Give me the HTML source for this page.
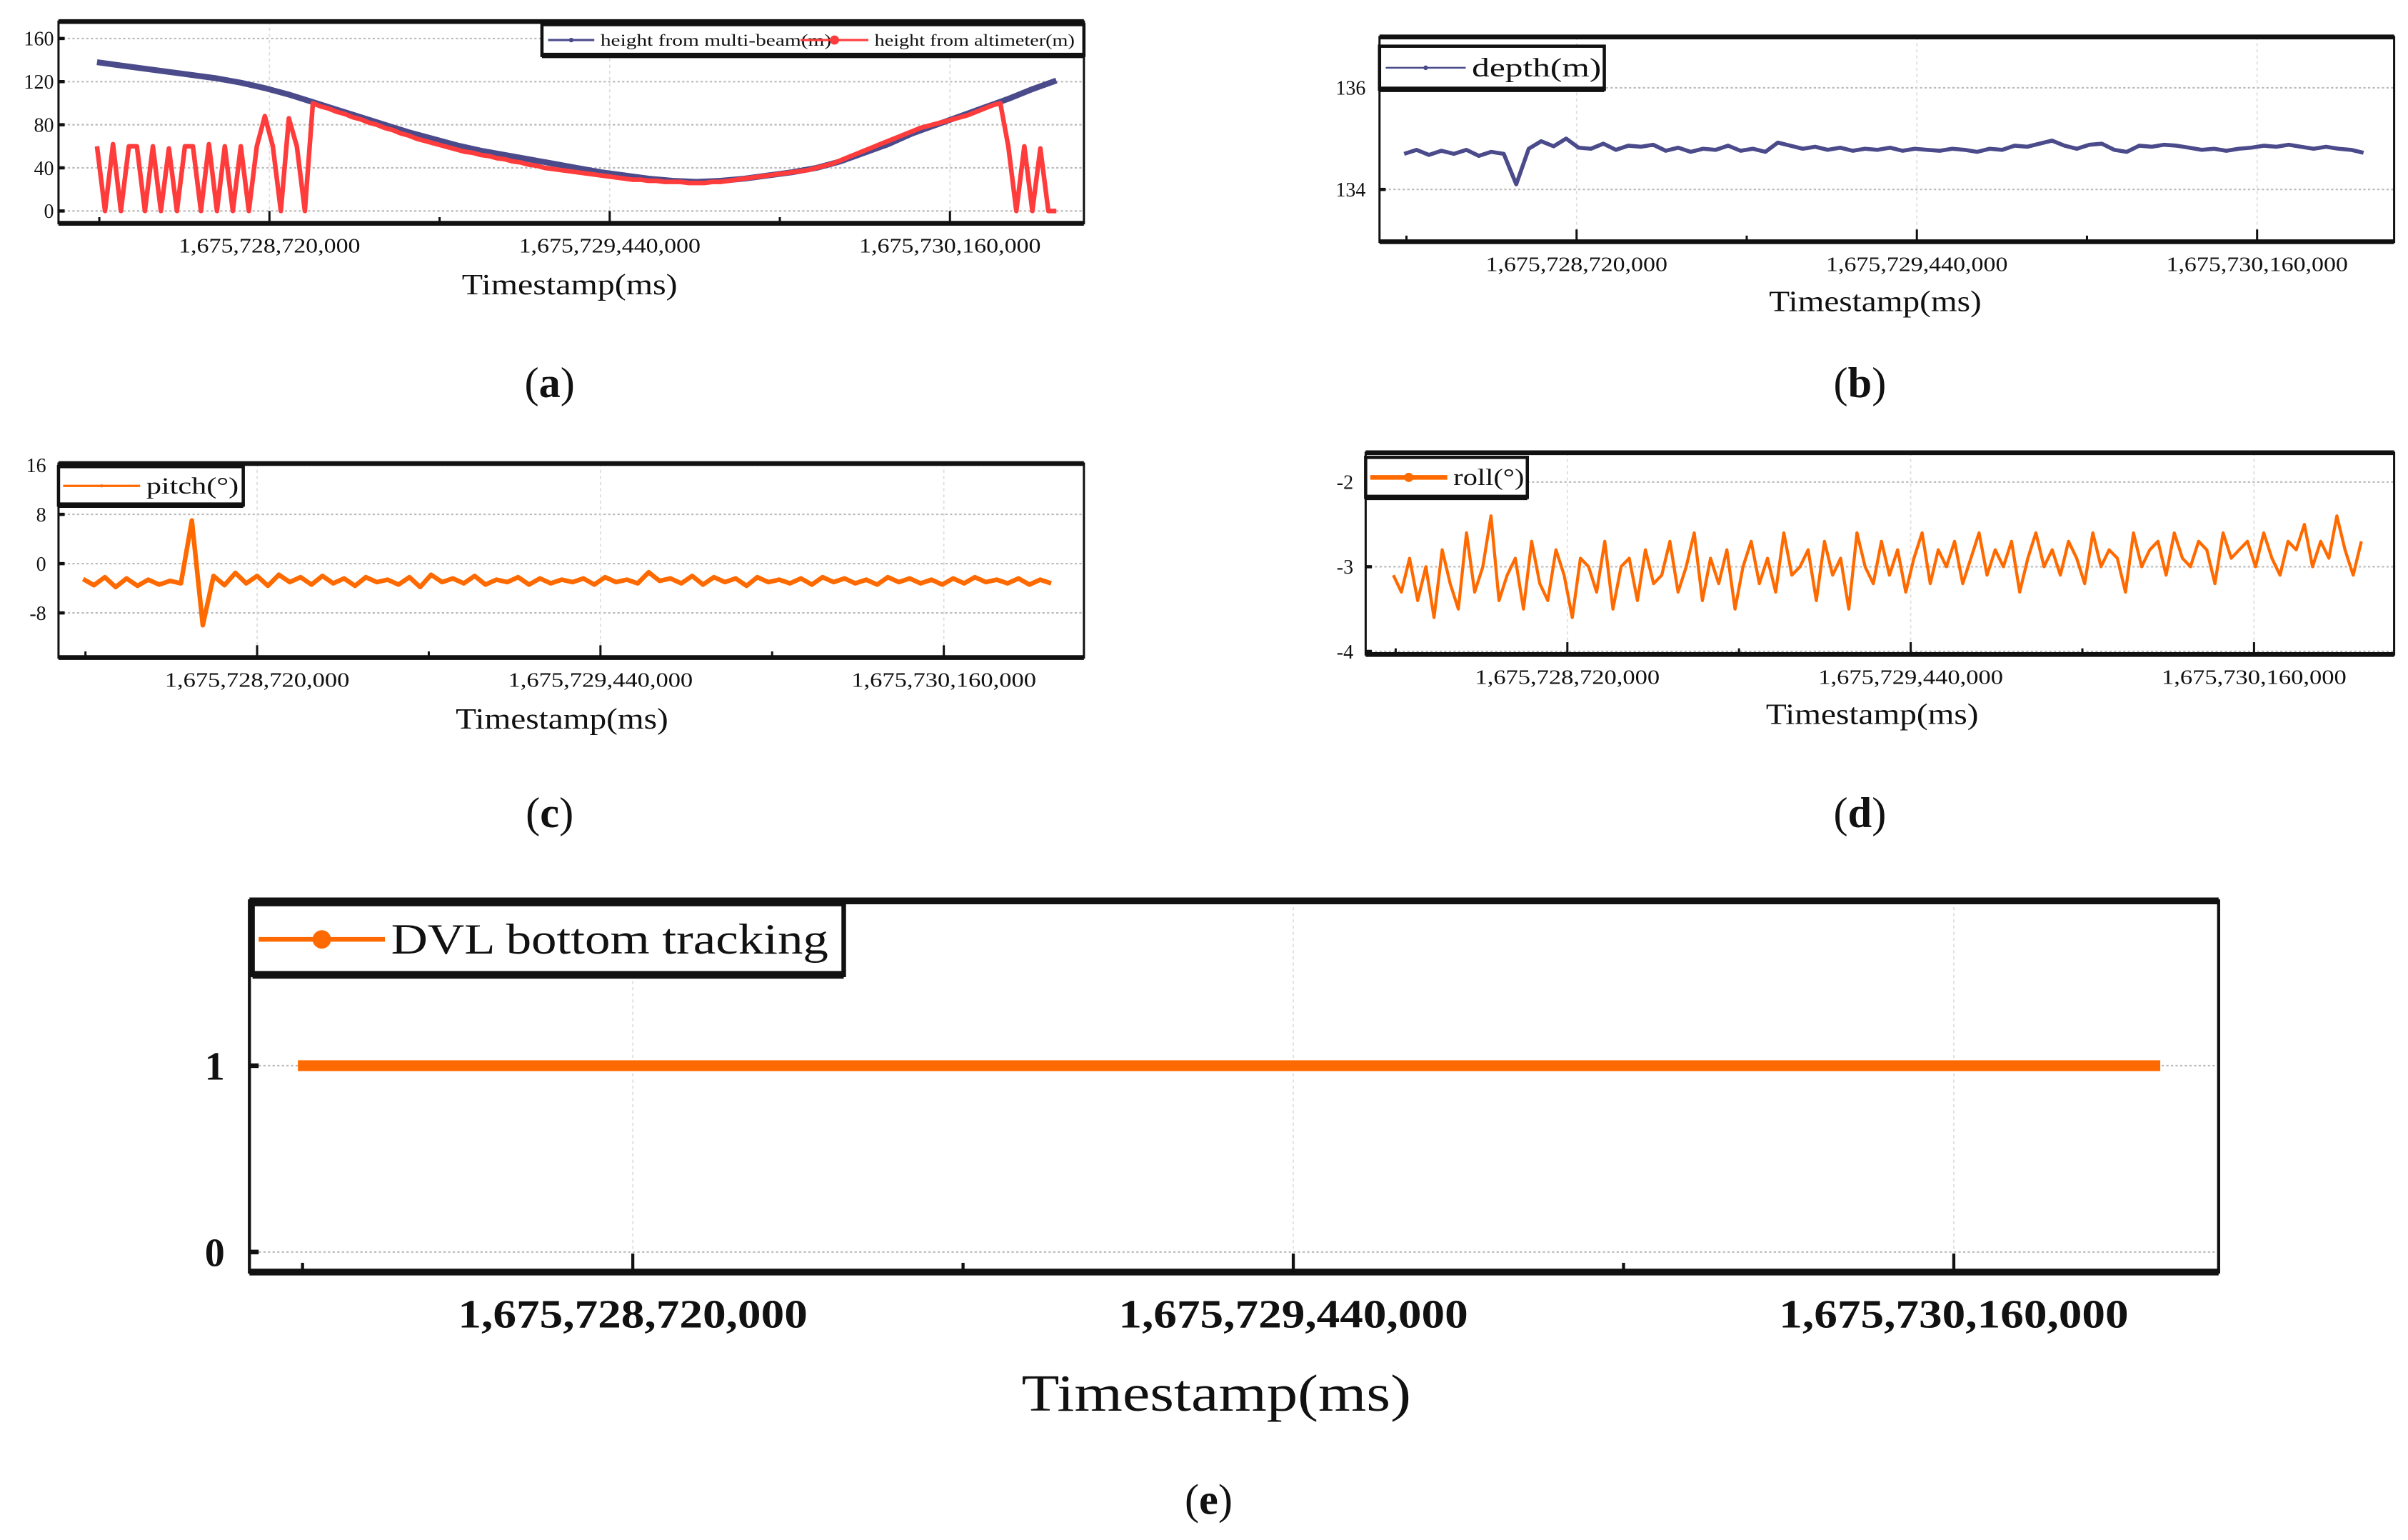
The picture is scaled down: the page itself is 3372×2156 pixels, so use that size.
<!DOCTYPE html>
<html><head><meta charset="utf-8"><style>
html,body{margin:0;padding:0;background:#fff;}
svg{display:block;}
text{font-family:"Liberation Serif",serif;fill:#111;}
</style></head><body>
<svg id="fig" xmlns="http://www.w3.org/2000/svg" width="3372" height="2156" viewBox="0 0 1564 1000"></svg>
<script>
// ---- data ----
const xTickValues = [1675728720000, 1675729440000, 1675730160000];
const xTickLabels = ["1,675,728,720,000", "1,675,729,440,000", "1,675,730,160,000"];
const tStart = 1675728355000;
const tEnd = 1675730385000;

const multibeamHeight = [138,135,132,129,126,123,119,114,108,101,94,87,80,73,67,61,56,52,48,44,40,36,33,30,28,27,28,30,33,36,40,46,54,62,72,80,88,96,104,113,121];
const altimeterHeight = [60,0,62,0,60,60,0,60,0,58,0,60,60,0,62,0,60,0,60,0,60,88,60,0,86,60,0,
 100,97,95,92,90,87,85,82,80,77,75,72,70,67,65,63,61,59,57,55,54,52,51,49,48,46,45,43,42,40,39,38,37,36,35,34,33,32,31,30,29,29,28,28,27,27,27,26,26,26,27,27,28,
 29,30,31,32,33,34,35,36,37,38,40,42,44,47,50,53,56,59,62,65,68,71,74,77,79,81,83,85,87,89,92,95,98,100,
 60,0,60,0,58,0,0];
const depthValues = [134.7,134.78,134.68,134.76,134.7,134.78,134.66,134.74,134.7,134.1,134.8,134.95,134.85,135.0,134.82,134.8,134.9,134.78,134.86,134.84,134.88,134.76,134.82,134.74,134.8,134.78,134.86,134.76,134.8,134.74,134.92,134.86,134.8,134.84,134.78,134.82,134.76,134.8,134.78,134.82,134.76,134.8,134.78,134.76,134.8,134.78,134.74,134.8,134.78,134.86,134.84,134.9,134.96,134.86,134.8,134.88,134.9,134.78,134.74,134.86,134.84,134.88,134.86,134.82,134.78,134.8,134.76,134.8,134.82,134.86,134.84,134.88,134.84,134.8,134.84,134.8,134.78,134.72];
const pitchValues = [-2.5,-3.5,-2.2,-3.8,-2.4,-3.6,-2.6,-3.4,-2.8,-3.2,7,-10,-2,-3.5,-1.5,-3.2,-2,-3.6,-1.8,-3,-2.2,-3.4,-2,-3.2,-2.4,-3.6,-2.2,-3,-2.6,-3.4,-2.2,-3.8,-1.8,-3,-2.4,-3.2,-2,-3.4,-2.6,-3,-2.2,-3.4,-2.4,-3.2,-2.6,-3,-2.4,-3.4,-2.2,-3,-2.6,-3.2,-1.4,-2.8,-2.4,-3.2,-2,-3.4,-2.2,-3,-2.4,-3.6,-2.2,-3,-2.6,-3.2,-2.4,-3.4,-2.2,-3,-2.4,-3.2,-2.6,-3.4,-2.2,-3,-2.4,-3.2,-2.6,-3.4,-2.4,-3.2,-2.2,-3,-2.6,-3.2,-2.4,-3.4,-2.6,-3.2];
const rollValues = [-3.1,-3.3,-2.9,-3.4,-3.0,-3.6,-2.8,-3.2,-3.5,-2.6,-3.3,-3.0,-2.4,-3.4,-3.1,-2.9,-3.5,-2.7,-3.2,-3.4,-2.8,-3.1,-3.6,-2.9,-3.0,-3.3,-2.7,-3.5,-3.0,-2.9,-3.4,-2.8,-3.2,-3.1,-2.7,-3.3,-3.0,-2.6,-3.4,-2.9,-3.2,-2.8,-3.5,-3.0,-2.7,-3.2,-2.9,-3.3,-2.6,-3.1,-3.0,-2.8,-3.4,-2.7,-3.1,-2.9,-3.5,-2.6,-3.0,-3.2,-2.7,-3.1,-2.8,-3.3,-2.9,-2.6,-3.2,-2.8,-3.0,-2.7,-3.2,-2.9,-2.6,-3.1,-2.8,-3.0,-2.7,-3.3,-2.9,-2.6,-3.0,-2.8,-3.1,-2.7,-2.9,-3.2,-2.6,-3.0,-2.8,-2.9,-3.3,-2.6,-3.0,-2.8,-2.7,-3.1,-2.6,-2.9,-3.0,-2.7,-2.8,-3.2,-2.6,-2.9,-2.8,-2.7,-3.0,-2.6,-2.9,-3.1,-2.7,-2.8,-2.5,-3.0,-2.7,-2.9,-2.4,-2.8,-3.1,-2.7];
const dvlValues = [1,1,1,1,1,1,1,1,1,1,1,1,1,1,1,1,1,1,1,1,1,1,1,1,1,1,1,1,1,1,1,1,1,1,1,1,1,1,1,1];

const svg = document.getElementById('fig');
const NS = 'http://www.w3.org/2000/svg';
function mk(tag, attrs, parent, txt) {
  const e = document.createElementNS(NS, tag);
  for (const k in attrs) e.setAttribute(k, attrs[k]);
  if (txt !== undefined) e.textContent = txt;
  (parent || svg).appendChild(e);
  return e;
}

function panel(c) {
  const g = mk('g', {});
  
  
  const xs = t => c.px0 + (t - xTickValues[0]) / (xTickValues[2] - xTickValues[0]) * (c.px2 - c.px0);
  const ys = v => c.yp[0] + (v - c.yv[0]) / (c.yv[1] - c.yv[0]) * (c.yp[1] - c.yp[0]);
  c.yTicks.forEach(v => {
    const l = mk('line', {x1: c.x0, x2: c.x1, y1: ys(v), y2: ys(v), stroke: '#bbb', 'stroke-width': 1, 'stroke-dasharray': '1.5,1.5'}, g);
    
    
  });
  xTickValues.forEach(t => {
    const l = mk('line', {x1: xs(t), x2: xs(t), y1: c.y0, y2: c.y1, stroke: '#ddd', 'stroke-width': 0.8, 'stroke-dasharray': '2,2'}, g);
    
    
  });
  const fr = mk('rect', {x: c.x0, y: c.y0, width: c.x1 - c.x0, height: c.y1 - c.y0, fill: 'none', stroke: '#111', 'stroke-width': c.bw}, g);
  
  
  mk('line', {x1: c.x0, x2: c.x1, y1: c.y0, y2: c.y0, stroke: '#111', 'stroke-width': c.bw * 2.2}, g);
  mk('line', {x1: c.x0, x2: c.x1, y1: c.y1, y2: c.y1, stroke: '#111', 'stroke-width': c.bw * 2.2}, g);
  const step = (xTickValues[1] - xTickValues[0]) / 2;
  for (let t = xTickValues[0] - step; t <= xTickValues[2]; t += step) {
    const major = xTickValues.includes(t);
    const l = mk('line', {x1: xs(t), x2: xs(t), y1: c.y1, y2: c.y1 - (major ? c.tk : c.tk / 2), stroke: '#111', 'stroke-width': c.bw}, g);
    
    
  }
  xTickLabels.forEach((s, i) => {
    const tx = mk('text', {x: xs(xTickValues[i]), y: c.xly, 'text-anchor': 'middle', 'font-size': c.fs, 'font-weight': c.bold ? 'bold' : 'normal', textLength: c.tlw, lengthAdjust: 'spacingAndGlyphs'}, g, s);
    
    
  });
  c.yTicks.forEach((v, i) => {
    const tk = mk('line', {x1: c.x0, x2: c.x0 + c.tk / 2, y1: ys(v), y2: ys(v), stroke: '#111', 'stroke-width': c.bw * 1.5}, g);
    
    
    const tx = mk('text', {x: c.ylx, y: ys(v) + c.yfs * 0.35, 'text-anchor': 'end', 'font-size': c.yfs, 'font-weight': c.bold ? 'bold' : 'normal'}, g, c.yLabels[i]);
    
    
  });
  const ti = mk('text', {x: c.tx, y: c.ty, 'text-anchor': 'middle', 'font-size': c.tfs, textLength: c.ttw, lengthAdjust: 'spacingAndGlyphs'}, g, 'Timestamp(ms)');
  
  
  const lb = mk('text', {x: c.lx, y: c.ly, 'text-anchor': 'middle', 'font-size': 28}, g);
  
  
  mk('tspan', {}, lb, '(');
  mk('tspan', {'font-weight': 'bold'}, lb, c.label);
  mk('tspan', {}, lb, ')');
  c.series.forEach(s => {
    const n = s.values.length;
    const pts = s.values.map((v, i) => xs(tStart + i * (tEnd - tStart) / (n - 1)).toFixed(1) + ',' + ys(v).toFixed(1)).join(' ');
    const pl = mk('polyline', {points: pts, fill: 'none', stroke: s.color, 'stroke-width': s.w, 'stroke-linejoin': 'round'}, g);
    
    
  });
  const L = c.legend;
  const lg = mk('g', {}, g);
  
  
  mk('rect', {x: L.x, y: L.y, width: L.w, height: L.h, fill: '#fff', stroke: '#111', 'stroke-width': c.bw * 1.5}, lg);
  mk('line', {x1: L.x, x2: L.x + L.w, y1: L.y + L.h, y2: L.y + L.h, stroke: '#111', 'stroke-width': c.bw * 2.5}, lg);
  L.items.forEach(it => {
    const en = mk('g', {}, lg);
    
    
    mk('line', {x1: it.x, x2: it.x + it.lw, y1: L.y + L.h / 2, y2: L.y + L.h / 2, stroke: it.color, 'stroke-width': it.sw}, en);
    mk('circle', {cx: it.x + it.lw / 2, cy: L.y + L.h / 2, r: it.r, fill: it.color}, en);
    mk('text', {x: it.x + it.lw + 4, y: L.y + L.h / 2 + it.fs * 0.33, 'font-size': it.fs, textLength: it.tw, lengthAdjust: 'spacingAndGlyphs'}, en, it.text);
  });
}

panel({name: 'panel-a-height', x0: 38, x1: 704, y0: 14, y1: 145, bw: 1.4, px0: 175, px2: 617, yv: [0, 160], yp: [137, 25], yTicks: [0, 40, 80, 120, 160], yLabels: ['0', '40', '80', '120', '160'], ylx: 35, yfs: 13, tk: 8, xly: 164, fs: 13, tlw: 118, tx: 370, ty: 191, tfs: 19, ttw: 140, lx: 357, ly: 258, label: 'a',
  series: [{name: 'multibeam-height-line', values: multibeamHeight, color: '#4b4b8c', w: 3.8}, {name: 'altimeter-height-line', values: altimeterHeight, color: '#ff3c3c', w: 3}],
  legend: {x: 352, y: 16, w: 352, h: 20, items: [{x: 356, lw: 30, color: '#4b4b8c', sw: 1.5, r: 1.5, fs: 11, tw: 150, text: 'height from multi-beam(m)'}, {x: 520, lw: 44, color: '#ff3c3c', sw: 1.5, r: 3, fs: 11, tw: 130, text: 'height from altimeter(m)'}]}});

panel({name: 'panel-b-depth', x0: 896, x1: 1555, y0: 24, y1: 157, bw: 1.4, px0: 1024, px2: 1466, yv: [134, 136], yp: [123, 57], yTicks: [134, 136], yLabels: ['134', '136'], ylx: 887, yfs: 13, tk: 8, xly: 176, fs: 13, tlw: 118, tx: 1218, ty: 202, tfs: 19, ttw: 138, lx: 1208, ly: 258, label: 'b',
  series: [{name: 'depth-line', values: depthValues, color: '#4b4b8c', w: 2.6}],
  legend: {x: 896, y: 30, w: 146, h: 28, items: [{x: 900, lw: 52, color: '#4b4b8c', sw: 1.2, r: 1.5, fs: 17, tw: 84, text: 'depth(m)'}]}});

panel({name: 'panel-c-pitch', x0: 38, x1: 704, y0: 301, y1: 427, bw: 1.4, px0: 167, px2: 613, yv: [0, 8], yp: [366, 334], yTicks: [-8, 0, 8, 16], yLabels: ['-8', '0', '8', '16'], ylx: 30, yfs: 13, tk: 8, xly: 446, fs: 13, tlw: 120, tx: 365, ty: 473, tfs: 19, ttw: 138, lx: 357, ly: 537, label: 'c',
  series: [{name: 'pitch-line', values: pitchValues, color: '#ff6a00', w: 3}],
  legend: {x: 38, y: 303, w: 120, h: 25, items: [{x: 41, lw: 50, color: '#ff6a00', sw: 1.5, r: 1, fs: 15, tw: 60, text: 'pitch(°)'}]}});

panel({name: 'panel-d-roll', x0: 887, x1: 1555, y0: 294, y1: 425, bw: 1.4, px0: 1018, px2: 1464, yv: [-3, -2], yp: [368, 313], yTicks: [-4, -3, -2], yLabels: ['-4', '-3', '-2'], ylx: 879, yfs: 13, tk: 8, xly: 444, fs: 13, tlw: 120, tx: 1216, ty: 470, tfs: 19, ttw: 138, lx: 1208, ly: 537, label: 'd',
  series: [{name: 'roll-line', values: rollValues, color: '#ff6a00', w: 2}],
  legend: {x: 887, y: 297, w: 105, h: 26, items: [{x: 890, lw: 50, color: '#ff6a00', sw: 3, r: 3, fs: 15, tw: 46, text: 'roll(°)'}]}});

panel({name: 'panel-e-dvl', x0: 162, x1: 1441, y0: 585, y1: 826, bw: 2, px0: 411, px2: 1269, yv: [0, 1], yp: [813, 692], yTicks: [0, 1], yLabels: ['0', '1'], ylx: 146, yfs: 26, bold: true, tk: 12, xly: 862, fs: 26, tlw: 227, tx: 790, ty: 916, tfs: 34, ttw: 253, lx: 785, ly: 983, label: 'e',
  series: [{name: 'dvl-bottom-tracking-line', values: dvlValues, color: '#ff6a00', w: 7}],
  legend: {x: 164, y: 587, w: 384, h: 46, items: [{x: 168, lw: 82, color: '#ff6a00', sw: 3, r: 6, fs: 28, tw: 284, text: 'DVL bottom tracking'}]}});
</script>
</body></html>
